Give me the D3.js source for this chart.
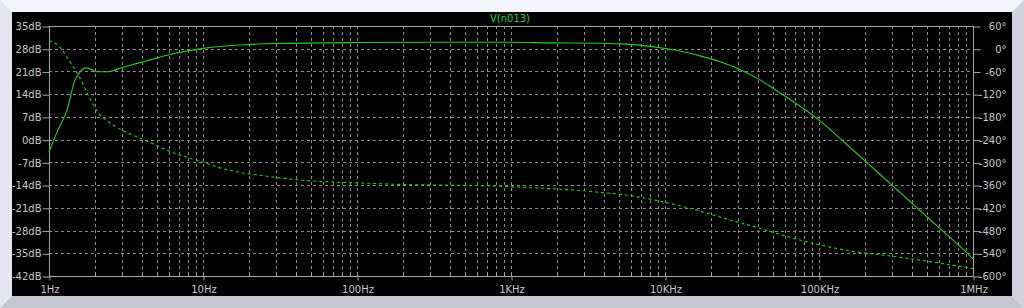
<!DOCTYPE html>
<html><head><meta charset="utf-8">
<script src="https://cdn.jsdelivr.net/npm/d3@7"></script>
<style>
html,body{margin:0;padding:0;background:#f2f2fa;}
svg{display:block;}
text{font-family:"DejaVu Sans",sans-serif;font-size:10px;}
</style></head>
<body>
<svg id="chart" width="1024" height="308"></svg>
<script>
// ---- data ----
const title = "V(n013)";
const magFreq = [1,1.144,1.309,1.475,1.59,1.71,1.85,2.05,2.38,3.02,4.33,6.1,10,19.9,29.8,100,402,1000,1875,3900,5100,6880,9280,12500,16900,22800,29400,41400,58400,83600,101500,136800,205000,302500,433000,611000,914000,1000000];
const magDb   = [-3.8,3.0,9.1,18.4,20.8,22.1,21.8,20.9,20.9,22.3,24.3,26.2,28.1,29.3,29.6,29.9,30.0,30.0,29.8,29.7,29.5,29.1,28.3,27.3,25.8,24.0,22.0,18.4,13.8,8.8,5.8,0.4,-7.1,-14.3,-21.0,-27.4,-34.9,-36.7];
const phFreq = [1,1.094,1.215,1.309,1.41,1.59,1.77,2.05,2.49,3.51,4.74,6.1,8.25,10,12.3,16.6,22.4,30.2,40.7,55,81,116,182,347,730,1090,1540,2170,2930,3950,5330,6880,9660,13800,19500,26300,37500,50600,72000,101500,160000,289000,526000,1000000];
const phDeg  = [21,15,-3,-22,-43,-77,-117,-164,-196,-228,-251,-271,-289,-299,-312,-325,-333,-340,-346,-350,-353,-355,-358,-360,-362,-365,-368,-371,-375,-380,-385,-392,-404,-419,-436,-452,-469,-485,-503,-518,-534,-547,-562,-580];
const xTickVals = [1,10,100,1000,10000,100000,1000000];
const xTickLabels = ["1Hz","10Hz","100Hz","1KHz","10KHz","100KHz","1MHz"];
const yTickVals = [35,28,21,14,7,0,-7,-14,-21,-28,-35,-42];
const yTickLabels = ["35dB","28dB","21dB","14dB","7dB","0dB","-7dB","-14dB","-21dB","-28dB","-35dB","-42dB"];
const y2TickVals = [60,0,-60,-120,-180,-240,-300,-360,-420,-480,-540,-600];
const y2TickLabels = ["60°","0°","-60°","-120°","-180°","-240°","-300°","-360°","-420°","-480°","-540°","-600°"];

// ---- layout ----
const svg = d3.select("#chart");
const W = 1024, H = 308;
const L = 49, R = 973, T = 26, B = 276;
const gridCol = "#8c8c8c", axisCol = "#a8a8a8", textCol = "#c8c8c8", traceCol = "#1ed21e";

// frame bevel
svg.append("rect").attr("x",0).attr("y",0).attr("width",W).attr("height",H).attr("fill","#f4f4fc");
svg.append("polygon").attr("points",`0,0 12,12 12,296 0,308`).attr("fill","#e6e6f2");
svg.append("polygon").attr("points",`${W},0 1012,12 1012,296 ${W},${H}`).attr("fill","#d2d2de");
svg.append("polygon").attr("points",`0,${H} 12,296 1012,296 ${W},${H}`).attr("fill","#c6c6d2");
svg.append("rect").attr("x",12).attr("y",12).attr("width",1000).attr("height",284).attr("fill","#000");

const x = d3.scaleLog().domain([1,1e6]).range([L,R]);
const y = d3.scaleLinear().domain([-42,35]).range([B,T]);
const y2 = d3.scaleLinear().domain([-600,60]).range([B,T]);

// grid
const minor = [];
for (let d=1; d<1e6; d*=10) for (let k=1;k<=9;k++) { const v=d*k; if (v>1 && v<1e6) minor.push(v); }
svg.append("g").selectAll("line").data(minor).join("line")
  .attr("x1",d=>Math.round(x(d))+0.5).attr("x2",d=>Math.round(x(d))+0.5)
  .attr("y1",T).attr("y2",B)
  .attr("stroke",gridCol).attr("stroke-width",1).attr("stroke-dasharray","3,3");
svg.append("g").selectAll("line").data(yTickVals.slice(1,-1)).join("line")
  .attr("x1",L).attr("x2",R)
  .attr("y1",d=>Math.round(y(d))+0.5).attr("y2",d=>Math.round(y(d))+0.5)
  .attr("stroke",gridCol).attr("stroke-width",1).attr("stroke-dasharray","3,3");

// plot frame
svg.append("rect").attr("x",L+0.5).attr("y",T+0.5).attr("width",R-L).attr("height",B-T)
  .attr("fill","none").attr("stroke",axisCol).attr("stroke-width",1);

// left axis
const yAxis = d3.axisLeft(y).tickValues(yTickVals).tickFormat((d,i)=>yTickLabels[i]).tickSize(7).tickPadding(1);
const gy = svg.append("g").attr("transform",`translate(${L+0.5},0.5)`).call(yAxis);
// right axis
const y2Axis = d3.axisRight(y2).tickValues(y2TickVals).tickFormat((d,i)=>y2TickLabels[i]).tickSize(7).tickPadding(2);
const gy2 = svg.append("g").attr("transform",`translate(${R+0.5},0.5)`).call(y2Axis);
gy2.selectAll("text").attr("text-anchor","end").attr("x",1006-R);
// bottom axis
const xAxis = d3.axisBottom(x).tickValues(xTickVals).tickFormat((d,i)=>xTickLabels[i]).tickSize(4).tickPadding(5);
const gx = svg.append("g").attr("transform",`translate(0.5,${B+0.5})`).call(xAxis);
// minor ticks on bottom (upwards)
svg.append("g").selectAll("line").data(minor).join("line")
  .attr("x1",d=>Math.round(x(d))+0.5).attr("x2",d=>Math.round(x(d))+0.5)
  .attr("y1",B-3).attr("y2",B).attr("stroke",axisCol);

[gy,gy2,gx].forEach(g=>{
  g.select(".domain").remove();
  g.selectAll("line").attr("stroke",axisCol);
  g.selectAll("text").attr("fill",textCol).style("font-family","DejaVu Sans, sans-serif").style("font-size","10px");
});

// title
svg.append("text").attr("x",510).attr("y",22).attr("text-anchor","middle")
  .attr("fill","#22d022").style("font-size","10px").text(title);

// traces
const magLine = d3.line().x((d,i)=>x(magFreq[i])).y(d=>y(d)).curve(d3.curveMonotoneX);
svg.append("path").attr("d",magLine(magDb)).attr("fill","none")
  .attr("stroke",traceCol).attr("stroke-width",1.1);
const phLine = d3.line().x((d,i)=>x(phFreq[i])).y(d=>y2(d)).curve(d3.curveMonotoneX);
svg.append("path").attr("d",phLine(phDeg)).attr("fill","none")
  .attr("stroke",traceCol).attr("stroke-width",1.1).attr("stroke-dasharray","3,3");
</script>
</body></html>
